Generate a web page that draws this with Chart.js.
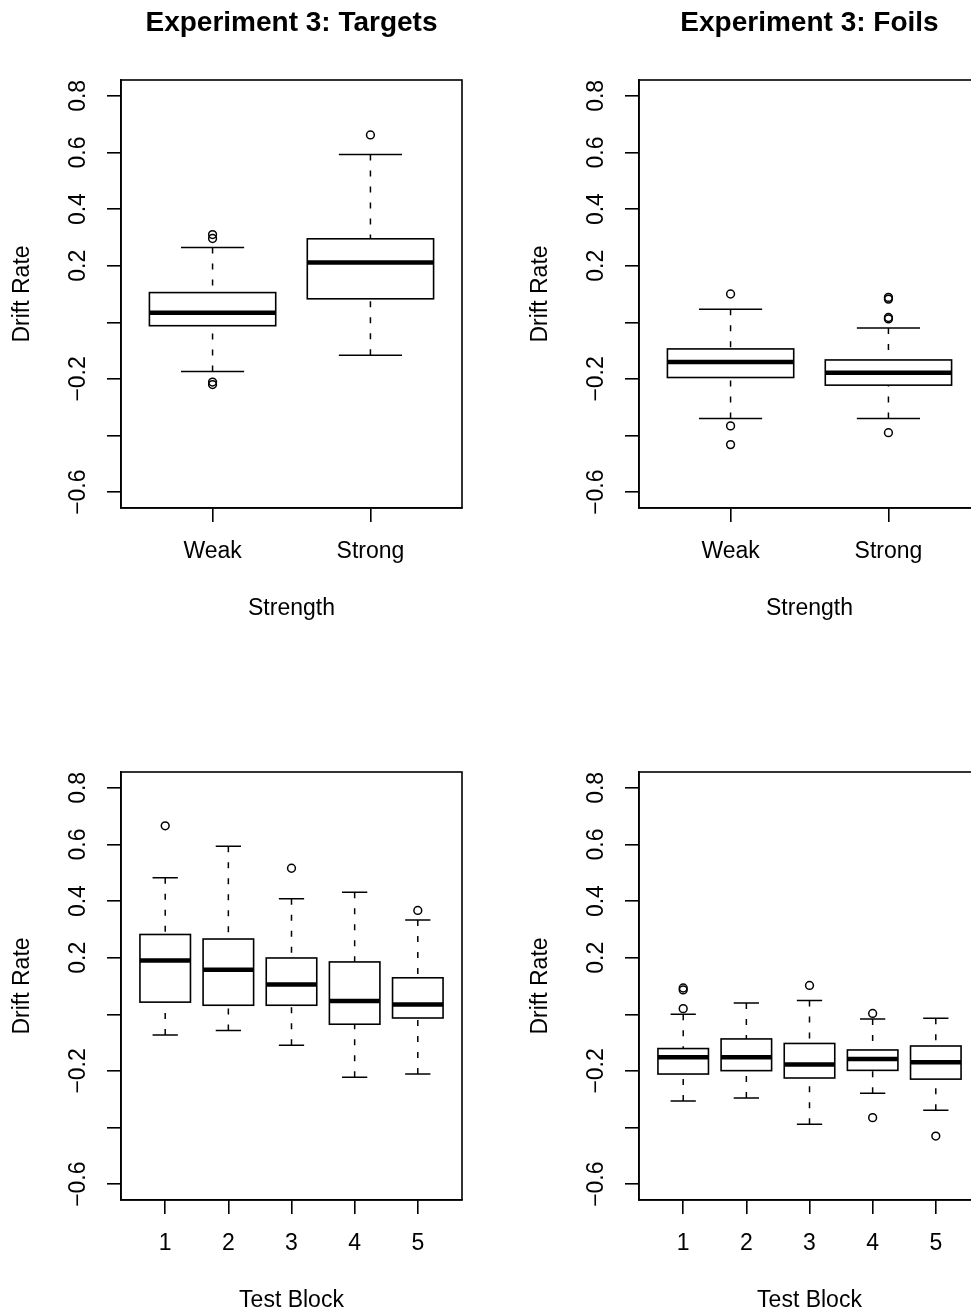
<!DOCTYPE html>
<html>
<head>
<meta charset="utf-8">
<script src="https://cdn.jsdelivr.net/npm/chart.js@4.4.0/dist/chart.umd.min.js"></script>
<style>
  html, body { margin: 0; padding: 0; background: #fff; overflow: hidden; }
  body { width: 971px; height: 1313px; position: relative; }
  canvas { position: absolute; }
</style>
</head>
<body>
<canvas id="tl" width="485" height="660" style="left:0;top:0"></canvas>
<canvas id="tr" width="485" height="660" style="left:518px;top:0"></canvas>
<canvas id="bl" width="485" height="660" style="left:0;top:692px"></canvas>
<canvas id="br" width="485" height="660" style="left:518px;top:692px"></canvas>
<script>
Chart.defaults.font.family = '"Liberation Sans", Arial, Helvetica, sans-serif';
Chart.defaults.color = '#000';

const strengthGroups = ['Weak', 'Strong'];
const blockGroups = ['1', '2', '3', '4', '5'];

const yTickValues = [-0.6, -0.4, -0.2, 0, 0.2, 0.4, 0.6, 0.8];
const yTickText = ['\u22120.6', '', '\u22120.2', '', '0.2', '0.4', '0.6', '0.8'];

// each row: [lower whisker, lower hinge, median, upper hinge, upper whisker]
const targetsByStrength = [
  [-0.174, -0.012, 0.034, 0.105, 0.264],
  [-0.116, 0.083, 0.211, 0.295, 0.593],
];
const targetsByStrengthOut = [[0.310, 0.296, -0.211, -0.220], [0.662]];

const foilsByStrength = [
  [-0.340, -0.195, -0.140, -0.094, 0.046],
  [-0.340, -0.222, -0.178, -0.133, -0.020],
];
const foilsByStrengthOut = [[0.100, -0.366, -0.432], [0.088, 0.082, 0.017, 0.012, -0.390]];

const targetsByBlock = [
  [-0.073, 0.043, 0.190, 0.282, 0.482],
  [-0.057, 0.032, 0.157, 0.266, 0.594],
  [-0.109, 0.032, 0.105, 0.199, 0.408],
  [-0.222, -0.035, 0.047, 0.185, 0.431],
  [-0.211, -0.013, 0.035, 0.129, 0.333],
];
const targetsByBlockOut = [[0.666], [], [0.516], [], [0.367]];

const foilsByBlock = [
  [-0.306, -0.211, -0.152, -0.121, 0.000],
  [-0.296, -0.199, -0.152, -0.087, 0.040],
  [-0.388, -0.225, -0.177, -0.103, 0.049],
  [-0.279, -0.198, -0.158, -0.126, -0.017],
  [-0.339, -0.229, -0.169, -0.112, -0.014],
];
const foilsByBlockOut = [[0.093, 0.086, 0.020], [], [0.102], [0.003, -0.365], [-0.430]];

// boxes, whiskers and medians, placed with the chart's own scales
const boxplotPlugin = {
  id: 'boxplot',
  beforeDatasetsDraw(chart, args, opts) {
    const { ctx, scales: { x, y } } = chart;
    ctx.save();
    ctx.strokeStyle = '#000';
    opts.stats.forEach((s, i) => {
      const cx = x.getPixelForValue(i + 1);
      const half = x.getPixelForValue(i + 1.4) - cx;
      const [lo, q1, med, q3, hi] = s.map((v) => y.getPixelForValue(v));

      // dashed whiskers, starting at the staple
      ctx.lineWidth = 1.5;
      ctx.setLineDash([6, 10]);
      [[hi, q3], [lo, q1]].forEach(([a, b]) => {
        ctx.beginPath();
        ctx.moveTo(cx, a);
        ctx.lineTo(cx, b);
        ctx.stroke();
      });
      ctx.setLineDash([]);

      // staples
      ctx.beginPath();
      ctx.moveTo(cx - half / 2, hi);
      ctx.lineTo(cx + half / 2, hi);
      ctx.moveTo(cx - half / 2, lo);
      ctx.lineTo(cx + half / 2, lo);
      ctx.stroke();

      // box
      ctx.fillStyle = '#fff';
      ctx.lineWidth = 1.6;
      ctx.fillRect(cx - half, q3, half * 2, q1 - q3);
      ctx.strokeRect(cx - half, q3, half * 2, q1 - q3);

      // median
      ctx.lineWidth = 4.5;
      ctx.beginPath();
      ctx.moveTo(cx - half, med);
      ctx.lineTo(cx + half, med);
      ctx.stroke();
    });
    ctx.restore();
  },
};

const framePlugin = {
  id: 'frame',
  afterDatasetsDraw(chart) {
    const { ctx, chartArea: a } = chart;
    ctx.save();
    ctx.strokeStyle = '#000';
    ctx.lineWidth = 1.6;
    ctx.strokeRect(a.left, a.top, a.right - a.left, a.bottom - a.top);
    ctx.restore();
  },
};

function drawPanel(id, title, groups, stats, outliers, xTitle) {
  const n = groups.length;
  const ext = 0.04 * n;
  const points = [];
  outliers.forEach((vals, i) => vals.forEach((v) => points.push({ x: i + 1, y: v })));

  const font = { size: 23 };
  const grid = { drawOnChartArea: false, drawTicks: true, tickLength: 14, color: '#000', lineWidth: 1.6 };
  const border = { display: true, color: '#000', width: 1.6 };

  return new Chart(document.getElementById(id), {
    type: 'scatter',
    data: {
      datasets: [{
        data: points,
        pointStyle: 'circle',
        pointRadius: 3.9,
        pointHoverRadius: 3.9,
        pointBorderWidth: 1.5,
        pointBorderColor: '#000',
        pointBackgroundColor: 'rgba(0,0,0,0)',
      }],
    },
    options: {
      responsive: false,
      animation: false,
      devicePixelRatio: 1,
      events: [],
      layout: { padding: { left: 0, right: 23, top: title ? 0 : 80, bottom: 32 } },
      plugins: {
        legend: { display: false },
        tooltip: { enabled: false },
        title: {
          display: !!title,
          text: title,
          fullSize: false,
          color: '#000',
          font: { size: 28, weight: 'bold' },
          padding: { top: 6, bottom: 40.4 },
        },
        boxplot: { stats },
      },
      scales: {
        x: {
          type: 'linear',
          bounds: 'data',
          min: 0.5 - ext,
          max: n + 0.5 + ext,
          afterBuildTicks: (s) => { s.ticks = groups.map((g, i) => ({ value: i + 1 })); },
          afterFit: (s) => { s.height = 120; },
          ticks: { callback: (v, i) => groups[i], font, color: '#000', padding: 16, autoSkip: false, maxRotation: 0 },
          grid,
          border,
          title: { display: true, text: xTitle, font, color: '#000', padding: { top: 0, bottom: 6 } },
        },
        y: {
          type: 'linear',
          bounds: 'data',
          min: -0.656,
          max: 0.856,
          afterBuildTicks: (s) => { s.ticks = yTickValues.map((v) => ({ value: v })); },
          afterFit: (s) => { s.width = 121; },
          ticks: {
            callback: (v, i) => yTickText[i],
            font,
            color: '#000',
            autoSkip: false,
            minRotation: 90,
            maxRotation: 90,
            crossAlign: 'center',
            padding: 6,
          },
          grid,
          border,
          title: { display: true, text: 'Drift Rate', font, color: '#000', padding: { top: 9, bottom: 0 } },
        },
      },
    },
    plugins: [boxplotPlugin, framePlugin],
  });
}

drawPanel('tl', 'Experiment 3: Targets', strengthGroups, targetsByStrength, targetsByStrengthOut, 'Strength');
drawPanel('tr', 'Experiment 3: Foils', strengthGroups, foilsByStrength, foilsByStrengthOut, 'Strength');
drawPanel('bl', '', blockGroups, targetsByBlock, targetsByBlockOut, 'Test Block');
drawPanel('br', '', blockGroups, foilsByBlock, foilsByBlockOut, 'Test Block');
</script>
</body>
</html>
